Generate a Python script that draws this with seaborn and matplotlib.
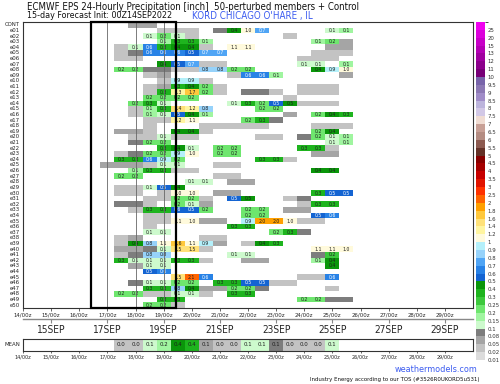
import numpy as np
import pandas as pd
import matplotlib
matplotlib.use('Agg')
import matplotlib.pyplot as plt
from matplotlib.colors import ListedColormap, BoundaryNorm
from matplotlib.patches import Rectangle
import seaborn as sns

# 12-hourly slots from 14/00z (slot k = 14/00z + 12h*k), value = 24h precip [inch]
n_slots = 32
members = ['CONT'] + [f'e{i:02d}' for i in range(1, 51)]

member_precip = [
    {8: .05, 9: .05},                                                       # CONT
    {10: .04, 11: .02, 12: .02, 14: .08, 15: .4, 16: 1.0, 17: .7, 22: .1, 23: .15},
    {9: .1, 10: .2, 11: .1, 12: .03, 19: .02},
    {10: .15, 11: .3, 12: .3, 13: .15, 21: .15, 22: .2, 23: .05},
    {7: .02, 8: .1, 9: .6, 10: .3, 11: .4, 12: .4, 13: .03, 15: 1.1, 16: 1.1, 22: .05, 23: .05},
    {7: .04, 8: .08, 9: .6, 10: .6, 11: .6, 12: .5, 13: .7, 14: .7, 21: .03, 22: .03, 23: .03},
    {7: .04, 8: .04, 20: .03, 21: .03, 22: .03},
    {10: .4, 11: .5, 12: .7, 13: .03, 14: .02, 20: .1, 21: .1, 23: .15},
    {7: .2, 8: .2, 9: .08, 10: .08, 11: .03, 12: .03, 13: .8, 14: .8, 15: .2, 16: .2, 21: .4, 22: .9, 23: 1.0},
    {9: .03, 10: .05, 15: .02, 16: .6, 17: .6, 18: .15, 23: .05},
    {10: .03, 11: .9, 12: .9, 13: .02},                                     # e10
    {9: .02, 10: .06, 11: .3, 12: .4, 13: .2, 14: .02, 20: .02, 21: .02, 22: .02},
    {9: .02, 10: .3, 11: 1.3, 12: 1.7, 13: .2, 14: .02, 16: .08, 17: .08, 18: .02, 20: .02, 21: .02, 22: .03},
    {9: .24, 10: .2, 11: .2, 12: .2, 19: .02},
    {8: .2, 9: .3, 10: .1, 15: .1, 16: .3, 17: .2, 18: .5, 19: .48, 20: .02, 21: .02, 22: .02},
    {8: .02, 9: .15, 10: .3, 11: 1.4, 12: 1.2, 13: .8, 17: .2, 18: .2},
    {8: .03, 9: .15, 10: .1, 11: .5, 12: .4, 13: .15, 19: .05, 21: .2, 22: .4, 23: .3},
    {9: .02, 10: .02, 11: 1.2, 12: 1.1, 16: .2, 17: .3, 18: .08},
    {9: .02, 13: .03, 14: .03, 15: .03, 16: .03, 17: .02, 21: .03, 22: .03, 23: .02},
    {7: .06, 8: .05, 9: .02, 11: .4, 12: .4, 13: .02, 21: .2, 22: .4},
    {8: .02, 9: .02, 10: .1, 11: .03, 12: .03, 17: .02, 18: .02, 20: .08, 21: .2, 22: .1, 23: .15},  # e20
    {8: .08, 9: .2, 10: .2, 22: .1, 23: .15},
    {10: .3, 11: .4, 12: .1, 14: .2, 15: .2, 20: .3, 21: .3, 22: .03},
    {7: .02, 8: .08, 9: .2, 10: .2, 11: .9, 12: 1.0, 14: .2, 15: .2, 21: .05, 22: .05},
    {7: .3, 8: .3, 9: .6, 10: .9, 11: .2, 17: .3, 18: .3, 19: .03},
    {6: .05, 7: .05, 8: .05, 9: .02, 10: .1, 11: .1, 14: .03, 15: .03},
    {8: .15, 9: .3, 10: .3, 11: .02, 12: .02, 21: .4, 22: .4},
    {7: .2, 8: .2, 14: .02, 15: .02},
    {12: .1, 13: .1, 15: .05, 16: .05},
    {7: .02, 8: .02, 9: .1, 10: .5, 11: .4},
    {7: .02, 8: .02, 10: .02, 11: 1.0, 12: 1.0, 14: .05, 15: .05, 21: .3, 22: .5, 23: .5},  # e30
    {9: .02, 10: .03, 11: .2, 12: .2, 13: .03, 15: .5, 16: .48, 19: .03, 20: .08},
    {7: .08, 8: .08, 9: .02, 11: .2, 12: .1, 13: .05, 20: .03, 21: .3, 22: .3},
    {8: .03, 9: .3, 10: .3, 11: .55, 12: .5, 13: .2, 16: .2, 17: .2, 19: .05, 20: .05},
    {9: .02, 10: .02, 16: .2, 17: .2, 21: .5, 22: .6},
    {9: .02, 10: .03, 11: 1.1, 12: 1.0, 13: .05, 14: .05, 16: .9, 17: 1.96, 18: 1.96, 19: 1.0, 20: .02, 21: .02},
    {9: .02, 15: .3, 16: .3},
    {9: .1, 10: .1, 18: .2, 19: .3, 20: .08},
    {7: .03, 8: .05, 13: .02, 14: .02},
    {7: .03, 8: .4, 9: .8, 10: 1.1, 11: 1.6, 12: 1.1, 13: .9, 14: .05, 16: .03, 17: .4, 18: .3},
    {7: .05, 8: .05, 9: .08, 10: .1, 11: 1.5, 12: 1.5, 13: .03, 21: 1.1, 22: 1.1, 23: 1.0},  # e40
    {7: .03, 8: .08, 9: .8, 10: .8, 15: .1, 16: .1, 21: .08, 22: .25},
    {7: .3, 8: .1, 9: .1, 10: .1, 11: .3, 12: .3, 13: .02, 16: .05, 17: .05, 21: .15, 22: .4},
    {8: .05, 9: .1, 10: .1, 22: .4},
    {9: .5, 10: .6},
    {11: 1.5, 12: 2.1, 13: .6, 20: .03, 21: .03, 22: .6},
    {8: .08, 9: .1, 10: .1, 11: .2, 12: .2, 14: .3, 15: .3, 16: .5, 17: .5, 18: .02, 19: .02},
    {9: .3, 10: .3, 11: .8, 12: .4, 13: .05, 14: .05, 15: .2, 16: .2, 17: .08, 22: .03},
    {7: .2, 8: .2, 9: .03, 10: .03, 11: .1, 12: .1, 13: .03, 15: .3, 16: .3},
    {10: .3, 11: .3, 20: .2, 21: .2, 22: .08, 23: .08},
    {9: .2, 10: .2, 11: .03},                                               # e50
]

mean_precip = {7: .03, 8: .04, 9: .12, 10: .18, 11: .42, 12: .38, 13: .07, 14: .04,
               15: .03, 16: .12, 17: .11, 18: .09, 19: .04, 20: .03, 21: .02, 22: .12}

day_labels = [f'{d}/00z' for d in range(14, 30)]
date_labels = [f'{d}SEP' for d in range(15, 30, 2)]

levels = [0.01, 0.02, 0.05, 0.08, 0.1, 0.15, 0.2, 0.25, 0.3, 0.4, 0.5, 0.6, 0.7, 0.8, 0.9,
          1, 1.2, 1.4, 1.6, 1.8, 2, 2.5, 3, 3.5, 4, 4.5, 5, 5.5, 6, 6.5, 7, 7.5, 8, 8.5,
          9, 9.5, 10, 11, 12, 13, 15, 20, 25]
level_colors = ['#dcdcdc', '#c3c3c3', '#a5a5a5', '#7d7d7d',
                '#cdfacd', '#a0f5a0', '#6ee66e', '#3cc83c', '#1eb41e', '#0a960a',
                '#1464d2', '#2882e6', '#50a5f5', '#96d2fa', '#b4f0fa',
                '#fffadc', '#fff5a0', '#ffe178', '#ffc83c', '#ffa000',
                '#ff6400', '#ff3200', '#e11400', '#c80000', '#a50000', '#870000',
                '#643228', '#8c5a50', '#b48c82', '#c8a096', '#f0dcd2',
                '#d2c8e6', '#bcb4dc', '#a08cc8', '#8c78b4', '#7864aa',
                '#780078', '#8c008c', '#a000a0', '#b400b4', '#c800c8', '#dc00dc', '#f000f0']

# ---- build tables
grid = np.full((len(members), n_slots), np.nan)
for i, row in enumerate(member_precip):
    for k, v in row.items():
        grid[i, k] = v
precip_df = pd.DataFrame(grid, index=members)
main_labels = np.where(grid >= 0.1, np.vectorize(lambda v: f'{v:.1f}')(np.nan_to_num(grid)), '')

mean_row = np.full((1, n_slots), np.nan)
for k, v in mean_precip.items():
    mean_row[0, k] = v
mean_df = pd.DataFrame(mean_row, index=['MEAN'])
mean_labels = np.where(np.isnan(mean_row), '', np.vectorize(lambda v: f'{v:.1f}')(np.nan_to_num(mean_row)))

cmap = ListedColormap(level_colors)
norm = BoundaryNorm(levels + [30], cmap.N)

sns.set_style('white')
plt.rcParams['font.family'] = ['DejaVu Sans']
plt.rcParams['font.stretch'] = 'condensed'

W, H = 500, 384
fig = plt.figure(figsize=(5, 3.84), dpi=100)

def box(x0, y0, x1, y1):
    return [x0 / W, 1 - y1 / H, (x1 - x0) / W, (y1 - y0) / H]

ax = fig.add_axes(box(23, 22, 473, 308))
cax = fig.add_axes(box(476, 22, 485, 360))
ax_m = fig.add_axes(box(23, 339, 473, 351))
ax_d = fig.add_axes(box(23, 319, 473, 319.01))

x_lo, x_hi = 0.5, 32.5
day_pos = [2 * d + 0.5 for d in range(16)]


def recolor(axis, data):
    for t in axis.texts:
        x, y = t.get_position()
        v = data[int(y), int(x)]
        t.set_color('white' if 0.5 <= v < 0.8 else '#1e1e1e')


sns.heatmap(precip_df, ax=ax, mask=precip_df.isna(), cmap=cmap, norm=norm,
            cbar_ax=cax, annot=main_labels, fmt='', annot_kws={'fontsize': 3.7},
            xticklabels=False, yticklabels=members)
recolor(ax, grid)
ax.set_xlim(x_lo, x_hi)
ax.set_ylim(len(members), 0)
ax.set_xticks(day_pos)
ax.set_xticklabels(day_labels, fontsize=4.3, rotation=0)
ax.tick_params(axis='x', length=2, width=0.5, pad=1.5, bottom=True)
ax.set_yticks(np.arange(len(members)) + 0.5)
ax.set_yticklabels(members, fontsize=4.3, rotation=0)
ax.tick_params(axis='y', length=0, pad=2)
for s in ax.spines.values():
    s.set_visible(True)
    s.set_linewidth(0.8)
    s.set_color('#333333')
for d in (3, 4, 5):
    ax.axvline(2 * d + 0.5, color='#666666', lw=0.6, zorder=3)
ax.add_patch(Rectangle((5.35, 0), 11.4 - 5.35, len(members), fill=False,
                       lw=1.6, ec='black', zorder=4, clip_on=False))

cb = ax.collections[0].colorbar
cb.set_ticks(levels)
cb.set_ticklabels([f'{l:g}' for l in levels])
cb.ax.tick_params(labelsize=4.3, length=0, pad=2, labelcolor='#333333')
cb.outline.set_visible(False)

# date axis
ax_d.set_xlim(x_lo, x_hi)
ax_d.set_yticks([])
for side in ('top', 'left', 'right'):
    ax_d.spines[side].set_visible(False)
ax_d.spines['bottom'].set_color('#888888')
ax_d.spines['bottom'].set_linewidth(1.0)
ax_d.set_xticks([2 * d + 0.5 for d in range(1, 16, 2)])
ax_d.set_xticklabels(date_labels, fontsize=7.3)
ax_d.tick_params(axis='x', length=3, width=0.8, color='#888888', pad=1.5, bottom=True)

# mean strip
sns.heatmap(mean_df, ax=ax_m, mask=mean_df.isna(), cmap=cmap, norm=norm, cbar=False,
            annot=mean_labels, fmt='', annot_kws={'fontsize': 4.3},
            xticklabels=False, yticklabels=['MEAN'])
recolor(ax_m, mean_row)
ax_m.set_xlim(x_lo, x_hi)
ax_m.set_xticks(day_pos)
ax_m.set_xticklabels(day_labels, fontsize=4, rotation=0)
ax_m.tick_params(axis='x', length=1.5, width=0.5, pad=1, bottom=True)
ax_m.set_yticklabels(['MEAN'], fontsize=4.3, rotation=0)
ax_m.tick_params(axis='y', length=0, pad=2)
for s in ax_m.spines.values():
    s.set_visible(True)
    s.set_linewidth(0.8)
    s.set_color('#333333')

# titles and credits
fig.text(27 / W, 1 - 7 / H, 'ECMWF EPS 24-Hourly Precipitation [inch]  50-perturbed members + Control',
         fontsize=6.9, va='center', ha='left', color='#111111')
fig.text(27 / W, 1 - 16 / H, '15-day Forecast Init: 00Z14SEP2022',
         fontsize=6.4, va='center', ha='left', color='#111111')
fig.text(192 / W, 1 - 16 / H, "KORD CHICAGO O'HARE , IL",
         fontsize=7, va='center', ha='left', color='#3c5cf0')
fig.text(477 / W, 1 - 369 / H, 'weathermodels.com', fontsize=6.5, va='center', ha='right', color='#3c5cf0')
fig.text(480 / W, 1 - 379 / H, 'Industry Energy according to our TOS (#3526R0UKORD5u531)',
         fontsize=4.3, va='center', ha='right', color='#111111')

fig.savefig('out.png', dpi=100)
